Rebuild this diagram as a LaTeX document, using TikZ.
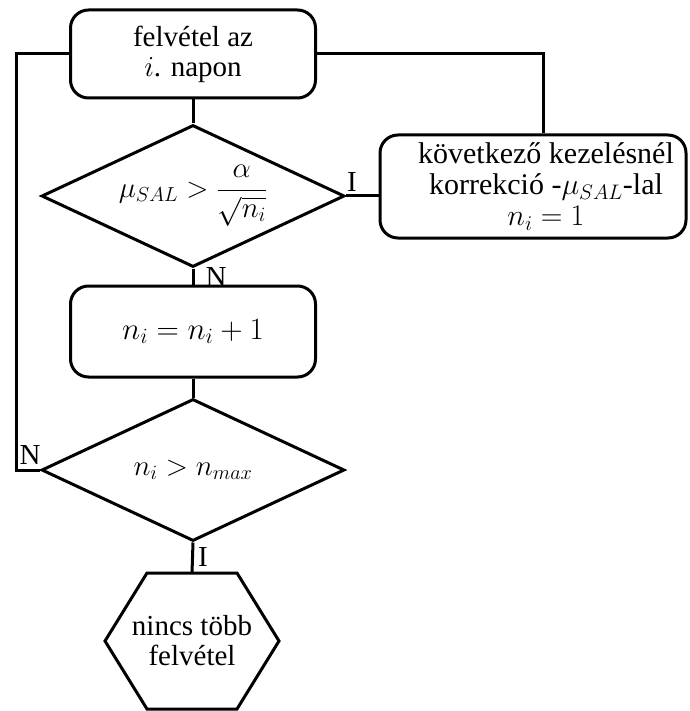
\RequirePackage{fix-cm}
\documentclass[tikz,border=0pt]{standalone}
\usepackage{fontspec}
\setmainfont{Liberation Serif}
\usetikzlibrary{shapes.geometric}
\begin{document}
\begin{tikzpicture}[x=1pt,y=-1pt,
  line width=3pt,
  every node/.style={font=\fontsize{29}{30}\selectfont},
  procbox/.style={draw, rounded corners=18pt, align=center, inner sep=0pt},
  decision/.style={draw, diamond, inner sep=0pt, aspect=2.1, minimum width=303pt, minimum height=142pt},
  lbl/.style={inner sep=0pt}]
\useasboundingbox (0,0) rectangle (689,711);

\node[procbox, minimum width=245pt, minimum height=88pt] (top) at (193,54) {felvétel az\\$i$. napon};
\node[decision] (d1) at (193,196) {$\mu_{SAL} > {\displaystyle\frac{\alpha}{\sqrt{n_i}}}$};
\node[procbox, minimum width=306pt, minimum height=103pt] (rbox) at (533,186.5) {};
\node[lbl, align=center, font=\fontsize{30}{31}\selectfont] (rtext) at (546,186.5) {következő kezelésnél\\korrekció -$\mu_{SAL}$-lal\\$n_i = 1$};
\node[procbox, minimum width=245pt, minimum height=91pt, font=\fontsize{31}{30}\selectfont] (b2) at (193,331.5) {$n_i = n_i + 1$};
\node[decision] (d2) at (193,470) {$n_i > n_{max}$};
\node[lbl, align=center] (hex) at (192,641) {nincs több\\felvétel};
\coordinate (hextop) at (192,573);
\draw (hextop) -- ++(-45,0) -- ++(-42,68) -- ++(42,68) -- ++(90,0) -- ++(42,-68) -- ++(-42,-68) -- cycle;

\coordinate (rc) at (543,54);
\coordinate (lc) at (16,54);

\draw (top.south) -- (d1.north);
\draw (d1.east) -- (d1.east -| rbox.west);
\draw (top.east) -- (rc) -- (rc |- rbox.north);
\draw (d1.south) -- (b2.north);
\draw (b2.south) -- (d2.north);
\draw (d2.west) -- (d2.west -| lc) -- (lc) -- (top.west);
\draw (d2.south) -- (hextop);

\node[lbl] (l1) at (352,182) {I};
\node[lbl] (l2) at (216,277) {N};
\node[lbl] (l3) at (30,455) {N};
\node[lbl] (l4) at (203,557) {I};
\end{tikzpicture}
\end{document}
